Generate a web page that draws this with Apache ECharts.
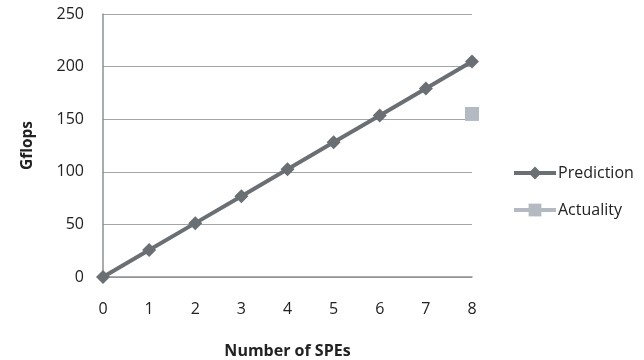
<!DOCTYPE html>
<html><head><meta charset="utf-8">
<script src="https://cdn.jsdelivr.net/npm/echarts@6/dist/echarts.min.js"></script>
<style>html,body{margin:0;padding:0;background:#fff}#c{width:644px;height:360px}</style>
</head><body><div id="c"></div>
<script>
const categories = ['0','1','2','3','4','5','6','7','8'];
const prediction = [0, 25.6, 51.2, 76.8, 102.4, 128, 153.6, 179.2, 204.8];
const actuality = [null, null, null, null, null, null, null, null, 155];
const yTicks = {min: 0, max: 250, interval: 50};

const chart = echarts.init(document.getElementById('c'), null, {renderer: 'canvas'});
const font = '"Open Sans", "Noto Sans", sans-serif';
chart.setOption({
  animation: false,
  grid: {left: 103, right: 172, top: 14, bottom: 83, containLabel: false, outerBoundsMode: 'none'},
  legend: {
    orient: 'vertical', left: 507, top: 160, itemGap: 21,
    itemWidth: 42, itemHeight: 16,
    lineStyle: {width: 4},
    textStyle: {fontFamily: font, fontSize: 16, color: '#222', padding: [0,0,0,-3]},
    data: ['Prediction', 'Actuality']
  },
  xAxis: {
    type: 'category', data: categories, boundaryGap: false,
    name: 'Number of SPEs', nameLocation: 'middle', nameGap: 66,
    nameTextStyle: {fontFamily: font, fontSize: 16, fontWeight: 'bold', color: '#222'},
    axisLine: {lineStyle: {color: '#8c9095', width: 1.5}},
    axisTick: {show: false},
    axisLabel: {fontFamily: font, fontSize: 16, color: '#222', margin: 24},
    splitLine: {show: false}
  },
  yAxis: {
    type: 'value', min: yTicks.min, max: yTicks.max, interval: yTicks.interval,
    name: 'Gflops', nameLocation: 'middle', nameGap: 67, nameRotate: 90,
    nameTextStyle: {fontFamily: font, fontSize: 15.5, fontWeight: 'bold', color: '#222'},
    axisLine: {show: true, lineStyle: {color: '#8c9095', width: 1.5}},
    axisTick: {show: false},
    axisLabel: {fontFamily: font, fontSize: 16, color: '#222', margin: 19},
    splitLine: {lineStyle: {color: '#a2a6aa', width: 1}}
  },
  series: [
    {
      name: 'Prediction', type: 'line', data: prediction,
      symbol: 'diamond', symbolSize: 14,
      lineStyle: {color: '#6a6f73', width: 4},
      itemStyle: {color: '#6a6f73'}
    },
    {
      name: 'Actuality', type: 'line', data: actuality,
      symbol: 'rect', symbolSize: 14,
      lineStyle: {color: '#b4bac2', width: 4},
      itemStyle: {color: '#b4bac2'}
    }
  ]
});
</script></body></html>
